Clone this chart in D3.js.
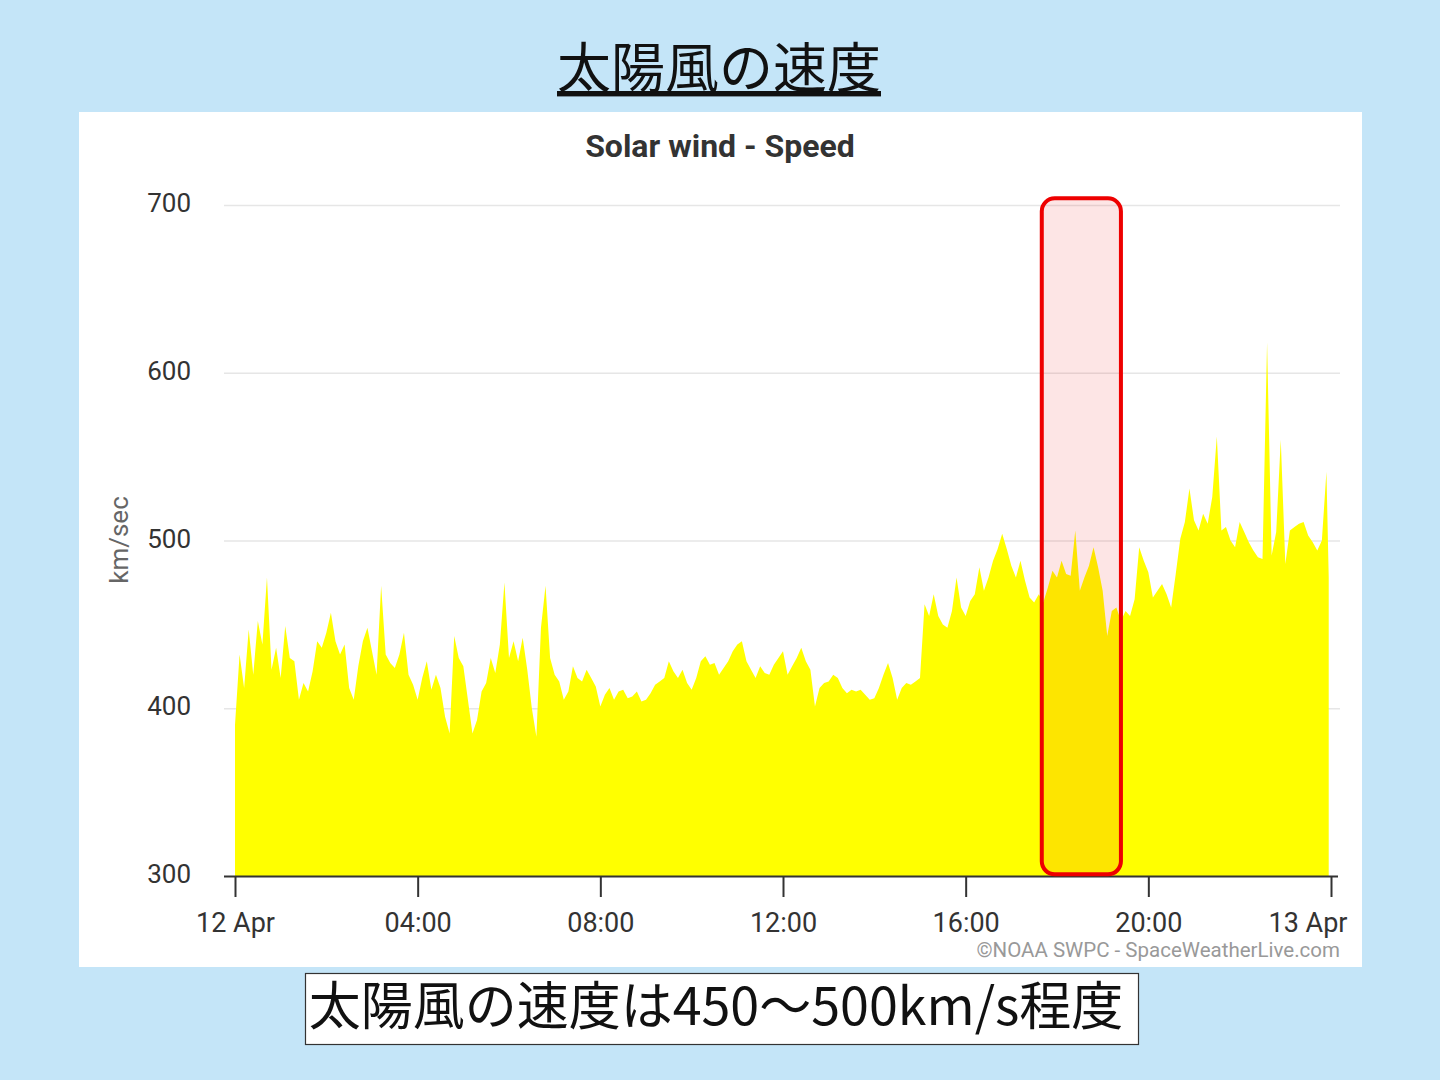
<!DOCTYPE html>
<html><head><meta charset="utf-8">
<script src="https://cdn.jsdelivr.net/npm/d3@7"></script>
<style>
html,body{margin:0;padding:0;background:#c4e5f8;}
svg{display:block;}
</style></head>
<body>
<svg id="chart" width="1440" height="1080"></svg>
<script>
// ---- data ----
const pageTitle = "太陽風の速度";
const chartTitle = "Solar wind - Speed";
const yAxisTitle = "km/sec";
const credit = "©NOAA SWPC - SpaceWeatherLive.com";
const caption = "太陽風の速度は450～500km/s程度";
const yTicks = [300, 400, 500, 600, 700];
const xTickHours = [0, 4, 8, 12, 16, 20, 24];
const xTickLabels = ["12 Apr", "04:00", "08:00", "12:00", "16:00", "20:00", "13 Apr"];
const startTime = Date.UTC(2024, 3, 12, 0, 0);
const sampleMinutes = 6;
// solar wind speed, km/s, one sample every 6 minutes from 12 Apr 00:00
const speed = [
 390,432,412,447,420,452,438,478,423,436,
 418,449,430,428,405,415,410,422,440,436,
 445,457,440,432,438,412,405,425,440,448,
 434,420,473,432,427,424,432,445,420,414,
 405,418,428,411,420,412,395,385,443,430,
 425,405,385,393,410,415,430,421,438,475,
 430,440,428,442,423,400,383,448,473,430,
 420,416,405,410,425,418,416,423,418,413,
 401,408,412,405,410,411,406,407,410,404,
 405,409,414,416,418,428,422,418,423,415,
 411,418,428,431,426,427,420,424,428,434,
 438,440,428,423,418,425,421,420,426,430,
 434,420,425,430,436,428,423,401,412,415,
 416,420,418,412,409,411,410,411,408,405,
 406,412,420,427,418,405,412,415,414,416,
 418,462,455,468,455,450,448,458,478,460,
 455,464,468,484,470,478,488,495,504,495,
 485,478,488,476,466,463,468,463,472,482,
 478,488,480,479,506,470,478,485,496,484,
 470,443,458,460,452,458,455,465,496,488,
 481,466,470,474,468,460,480,501,511,531,
 512,506,516,510,526,562,506,508,500,496,
 511,505,499,494,490,489,618,491,505,560,
 486,506,508,510,511,503,499,494,500,541,
 478
];
// highlighted interval (red box)
const highlightStart = "17:40";
const highlightEnd = "19:24";
const highlightTop = 704;
const highlightBottom = 301;

// ---- drawing ----
const svg = d3.select("#chart");
const hm = s => { const [h, m] = s.split(":").map(Number); return new Date(startTime + (h * 60 + m) * 60000); };
const data = speed.map((v, i) => ({ t: new Date(startTime + i * sampleMinutes * 60000 - (i === speed.length - 1 ? 3 * 60000 : 0)), v }));

const x = d3.scaleUtc().domain([new Date(startTime), new Date(startTime + 24 * 3600000)]).range([235, 1331]);
const y = d3.scaleLinear().domain([300, 700]).range([876, 205]);

// page title
svg.append("text").attr("x", 719).attr("y", 88).attr("text-anchor", "middle")
  .attr("font-family", "'Noto Sans CJK JP', sans-serif").attr("font-size", 54).attr("fill", "#111")
  .attr("text-decoration", "underline").text(pageTitle);

// white panel
svg.append("rect").attr("x", 79).attr("y", 112).attr("width", 1283).attr("height", 855).attr("fill", "#fff");

// chart title
svg.append("text").attr("x", 720).attr("y", 157).attr("text-anchor", "middle")
  .attr("font-family", "Roboto, sans-serif").attr("font-weight", 700).attr("font-size", 32).attr("fill", "#333")
  .text(chartTitle);

// gridlines
svg.append("g").selectAll("line").data(yTicks.filter(d => d !== 300)).join("line")
  .attr("x1", 224).attr("x2", 1340).attr("y1", d => y(d) + 0.5).attr("y2", d => y(d) + 0.5)
  .attr("stroke", "#e6e6e6").attr("stroke-width", 1.5);

// area
const area = d3.area().x(d => x(d.t)).y0(y(300)).y1(d => y(d.v)).curve(d3.curveLinear);
svg.append("path").datum(data).attr("d", area).attr("fill", "#ffff00");

// y axis labels
const yAxis = d3.axisLeft(y).tickValues(yTicks).tickSize(0).tickPadding(0);
const gy = svg.append("g").attr("transform", "translate(191,0)").call(yAxis);
gy.select(".domain").remove();
gy.selectAll("text").attr("font-family", "Roboto, sans-serif").attr("font-size", 26).attr("fill", "#333").attr("dy", "0.25em");

// y title
svg.append("text").attr("transform", "translate(128,540) rotate(-90)").attr("text-anchor", "middle")
  .attr("font-family", "Roboto, sans-serif").attr("font-size", 26).attr("fill", "#666").text(yAxisTitle);

// x axis
const xTickVals = xTickHours.map(h => new Date(startTime + h * 3600000));
const xAxis = d3.axisBottom(x).tickValues(xTickVals).tickSize(21).tickPadding(16)
  .tickFormat((d, i) => xTickLabels[i]);
const gx = svg.append("g").attr("transform", "translate(0,876)").call(xAxis);
gx.select(".domain").attr("d", "M224,0.5H1338").attr("stroke", "#333").attr("stroke-width", 2);
gx.selectAll(".tick line").attr("stroke", "#333").attr("stroke-width", 2);
gx.selectAll("text").attr("font-family", "Roboto, sans-serif").attr("font-size", 27).attr("fill", "#333");
// keep last label inside the plot (right-aligned like the original)
gx.selectAll(".tick").filter((d, i) => i === xTickVals.length - 1).select("text")
  .attr("text-anchor", "end").attr("x", 16);

// credit
svg.append("text").attr("x", 1340).attr("y", 957).attr("text-anchor", "end")
  .attr("font-family", "Roboto, sans-serif").attr("font-size", 20.5).attr("fill", "#999").text(credit);

// highlight box
svg.append("rect")
  .attr("x", x(hm(highlightStart))).attr("y", y(highlightTop))
  .attr("width", x(hm(highlightEnd)) - x(hm(highlightStart))).attr("height", y(highlightBottom) - y(highlightTop))
  .attr("rx", 13).attr("fill", "rgba(240,0,0,0.1)").attr("stroke", "#ee0000").attr("stroke-width", 4);

// caption box
svg.append("rect").attr("x", 305.5).attr("y", 973.5).attr("width", 833).attr("height", 71)
  .attr("fill", "#fff").attr("stroke", "#333").attr("stroke-width", 1.2);
svg.append("text").attr("x", 716).attr("y", 1025).attr("text-anchor", "middle")
  .attr("font-family", "'Noto Sans CJK JP', sans-serif").attr("font-size", 52).attr("fill", "#111")
  .text(caption);
</script>
</body></html>
